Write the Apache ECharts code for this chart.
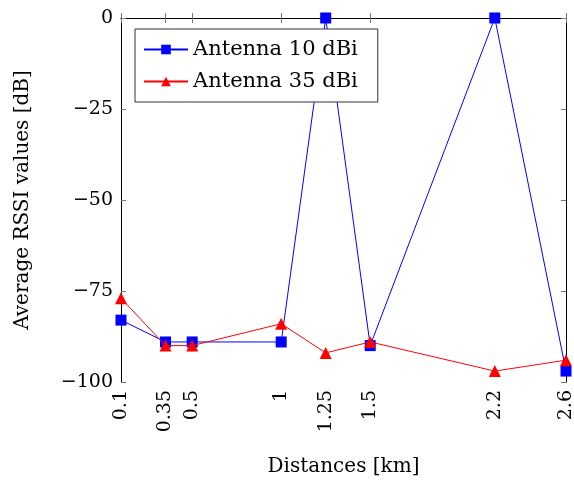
<!DOCTYPE html>
<html>
<head>
<meta charset="utf-8">
<script src="https://cdn.jsdelivr.net/npm/echarts@6/dist/echarts.min.js"></script>
<style>
  html, body { margin: 0; padding: 0; background: #fff; }
  #chart { width: 574px; height: 484px; }
</style>
</head>
<body>
<div id="chart"></div>
<script>
// distances in km
var distances = [0.1, 0.35, 0.5, 1, 1.25, 1.5, 2.2, 2.6]
var xTicks = [0.1, 0.35, 0.5, 1, 1.25, 1.5, 2.2, 2.6]
// average RSSI [dB]
var rssi10 = [-83, -89, -89, -89, 0, -90, 0, -97]
var rssi35 = [-77, -90, -90, -84, -92, -89, -97, -94]

var font = 'DejaVu Serif'
var chart = echarts.init(document.getElementById('chart'))

function pairs(xs, ys) {
  return xs.map(function (x, i) { return [x, ys[i]] })
}

var tickStyle = { show: true, inside: true, length: 5, lineStyle: { color: '#777', width: 1 } }

chart.setOption({
  animation: false,
  textStyle: { fontFamily: font },
  grid: { left: 121, right: 8, top: 18, bottom: 102, containLabel: false, outerBoundsMode: 'none' },
  legend: {
    left: 135,
    top: 29,
    orient: 'vertical',
    itemWidth: 44,
    itemHeight: 12,
    itemGap: 11,
    padding: [10, 20, 10, 8],
    borderColor: '#333',
    borderWidth: 1,
    backgroundColor: '#fff',
    textStyle: { fontFamily: font, fontSize: 21, color: '#000' },
    data: ['Antenna 10 dBi', 'Antenna 35 dBi']
  },
  xAxis: [{
    type: 'value',
    min: 0.1,
    max: 2.6,
    name: 'Distances [km]',
    nameLocation: 'middle',
    nameGap: 75,
    nameTextStyle: { fontFamily: font, fontSize: 20, color: '#000' },
    axisLine: { show: true, lineStyle: { color: '#000', width: 1 } },
    axisTick: Object.assign({ customValues: xTicks }, tickStyle),
    axisLabel: {
      customValues: xTicks,
      rotate: 90,
      fontFamily: font,
      fontSize: 19,
      color: '#000',
      margin: 8
    },
    splitLine: { show: false }
  }, {
    type: 'value',
    position: 'top',
    min: 0.1,
    max: 2.6,
    axisLine: { show: true, lineStyle: { color: '#000', width: 1 } },
    axisTick: Object.assign({ customValues: xTicks }, tickStyle),
    axisLabel: { show: false },
    splitLine: { show: false }
  }],
  yAxis: [{
    type: 'value',
    min: -100,
    max: 0,
    interval: 25,
    name: 'Average RSSI values [dB]',
    nameLocation: 'middle',
    nameGap: 88,
    nameTextStyle: { fontFamily: font, fontSize: 20, color: '#000' },
    axisLine: { show: true, lineStyle: { color: '#000', width: 1 } },
    axisTick: tickStyle,
    axisLabel: {
      fontFamily: font,
      fontSize: 19,
      color: '#000',
      margin: 8,
      formatter: function (v) { return v < 0 ? '\u2212' + Math.abs(v) : String(v) }
    },
    splitLine: { show: false }
  }, {
    type: 'value',
    position: 'right',
    min: -100,
    max: 0,
    interval: 25,
    axisLine: { show: true, lineStyle: { color: '#000', width: 1 } },
    axisTick: tickStyle,
    axisLabel: { show: false },
    splitLine: { show: false }
  }],
  series: [{
    name: 'Antenna 10 dBi',
    type: 'line',
    data: pairs(distances, rssi10),
    symbol: 'rect',
    symbolSize: 11,
    color: '#0000ff',
    lineStyle: { color: '#0000ff', width: 1 },
    itemStyle: { color: '#0000ff' },
    z: 2
  }, {
    name: 'Antenna 35 dBi',
    type: 'line',
    data: pairs(distances, rssi35),
    symbol: 'triangle',
    symbolSize: 12,
    color: '#ff0000',
    lineStyle: { color: '#ff0000', width: 1 },
    itemStyle: { color: '#ff0000' },
    z: 3
  }]
})
</script>
</body>
</html>
